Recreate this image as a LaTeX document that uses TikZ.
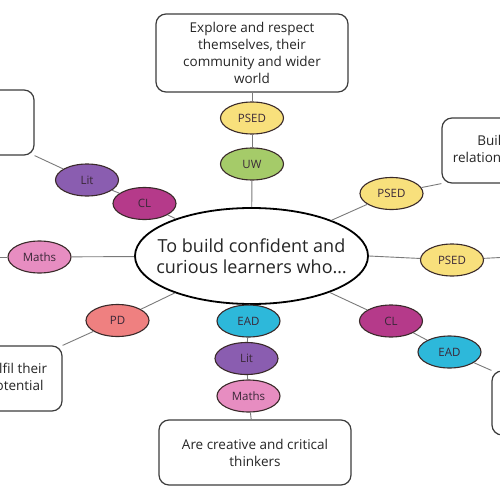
\documentclass[tikz,border=0pt]{standalone}
\usepackage{fontspec}
\setmainfont{Open Sans}
\usetikzlibrary{shapes.geometric}
\definecolor{cPSED}{HTML}{F8E07C}
\definecolor{cUW}{HTML}{A5CB69}
\definecolor{cLit}{HTML}{8A5DB0}
\definecolor{cCL}{HTML}{B53A8A}
\definecolor{cMaths}{HTML}{E78DC1}
\definecolor{cPD}{HTML}{EF8080}
\definecolor{cEAD}{HTML}{2DB8DA}
\definecolor{linegray}{HTML}{7A7A7A}
\definecolor{tagborder}{HTML}{3A2A2A}
\definecolor{tagtext}{HTML}{3A2838}
\definecolor{boxborder}{HTML}{3C3C3C}
\definecolor{boxtext}{HTML}{262626}
\begin{document}
\begin{tikzpicture}[x=1pt,y=-1pt,
  conn/.style={draw=linegray, line width=0.9pt},
  tag/.style={ellipse, draw=tagborder, line width=1.1pt, minimum width=63pt, minimum height=32pt, inner sep=0pt, font=\fontsize{11.5}{13}\selectfont, text=tagtext},
  card/.style={draw=boxborder, line width=1.2pt, rounded corners=10pt, fill=white, align=center, inner sep=0pt, font=\fontsize{13.5}{17}\selectfont, text=boxtext},
  hub/.style={ellipse, draw=black, line width=1.8pt, fill=white, minimum width=233pt, minimum height=96pt, inner xsep=-24pt, inner ysep=0pt, align=center, font=\fontsize{18}{21}\selectfont, text=boxtext}]
\useasboundingbox (0,0) rectangle (500,500);
\clip (0,0) rectangle (500,500);

% hub
\node[hub] (center) at (251.5,256) {To build confident and\\curious learners who\dots};

% cards
\node[card, minimum width=192pt, minimum height=78pt] (topbox) at (252,53) {Explore and respect\\themselves, their\\community and wider\\world};
\node[card, minimum width=94pt, minimum height=65pt] (ltbox) at (-13,122.5) {};
\node[card, minimum width=93pt, minimum height=65pt] (lbbox) at (15.5,378.5) {Fulfil their\\potential};
\node[card, minimum width=192pt, minimum height=65pt] (bbox) at (255,452.5) {Are creative and critical\\thinkers};
\node[card, minimum width=97pt, minimum height=65pt] (rtbox) at (490.5,150.5) {\hspace*{6pt}Build\\\hspace*{6pt}relationships};
\node[card, minimum width=96pt, minimum height=64pt] (rbbox) at (540,403) {};

% tags
\node[tag, fill=cPSED] (psedT) at (252,118) {PSED};
\node[tag, fill=cUW] (uw) at (252,164) {UW};
\node[tag, fill=cLit] (litL) at (87,180) {Lit};
\node[tag, fill=cCL] (clL) at (144.5,203.5) {CL};
\node[tag, fill=cMaths] (mathsL) at (39.5,257) {Maths};
\node[tag, fill=cPD] (pd) at (117.5,320.5) {PD};
\node[tag, fill=cEAD] (eadB) at (248.5,321) {EAD};
\node[tag, fill=cLit] (litB) at (246.5,358.5) {Lit};
\node[tag, fill=cMaths] (mathsB) at (248.5,396) {Maths};
\node[tag, fill=cPSED] (psedR1) at (391.5,193.5) {PSED};
\node[tag, fill=cPSED] (psedR2) at (452,260) {PSED};
\node[tag, fill=cCL] (clR) at (391,321) {CL};
\node[tag, fill=cEAD] (eadR) at (449.5,352) {EAD};

\coordinate (lend) at (-10,257);
\coordinate (rend) at (510,257);

% connectors
\draw[conn] (topbox) -- (psedT);
\draw[conn] (psedT) -- (uw);
\draw[conn] (uw) -- (center);
\draw[conn] (ltbox.south east) -- (litL);
\draw[conn] (litL) -- (clL);
\draw[conn] (clL) -- (center);
\draw[conn] (lend) -- (mathsL);
\draw[conn] (mathsL) -- (center);
\draw[conn] (center) -- (pd);
\draw[conn] (pd) -- (lbbox.north east);
\draw[conn] (center) -- (eadB);
\draw[conn] (eadB) -- (litB);
\draw[conn] (litB) -- (mathsB);
\draw[conn] (mathsB) -- (bbox);
\draw[conn] (center) -- (psedR1);
\draw[conn] (psedR1) -- (rtbox.south west);
\draw[conn] (center.east) -- (psedR2);
\draw[conn] (psedR2) -- (rend);
\draw[conn] (center) -- (clR);
\draw[conn] (clR) -- (eadR);
\draw[conn] (eadR) -- (rbbox.north west);
\end{tikzpicture}
\end{document}
